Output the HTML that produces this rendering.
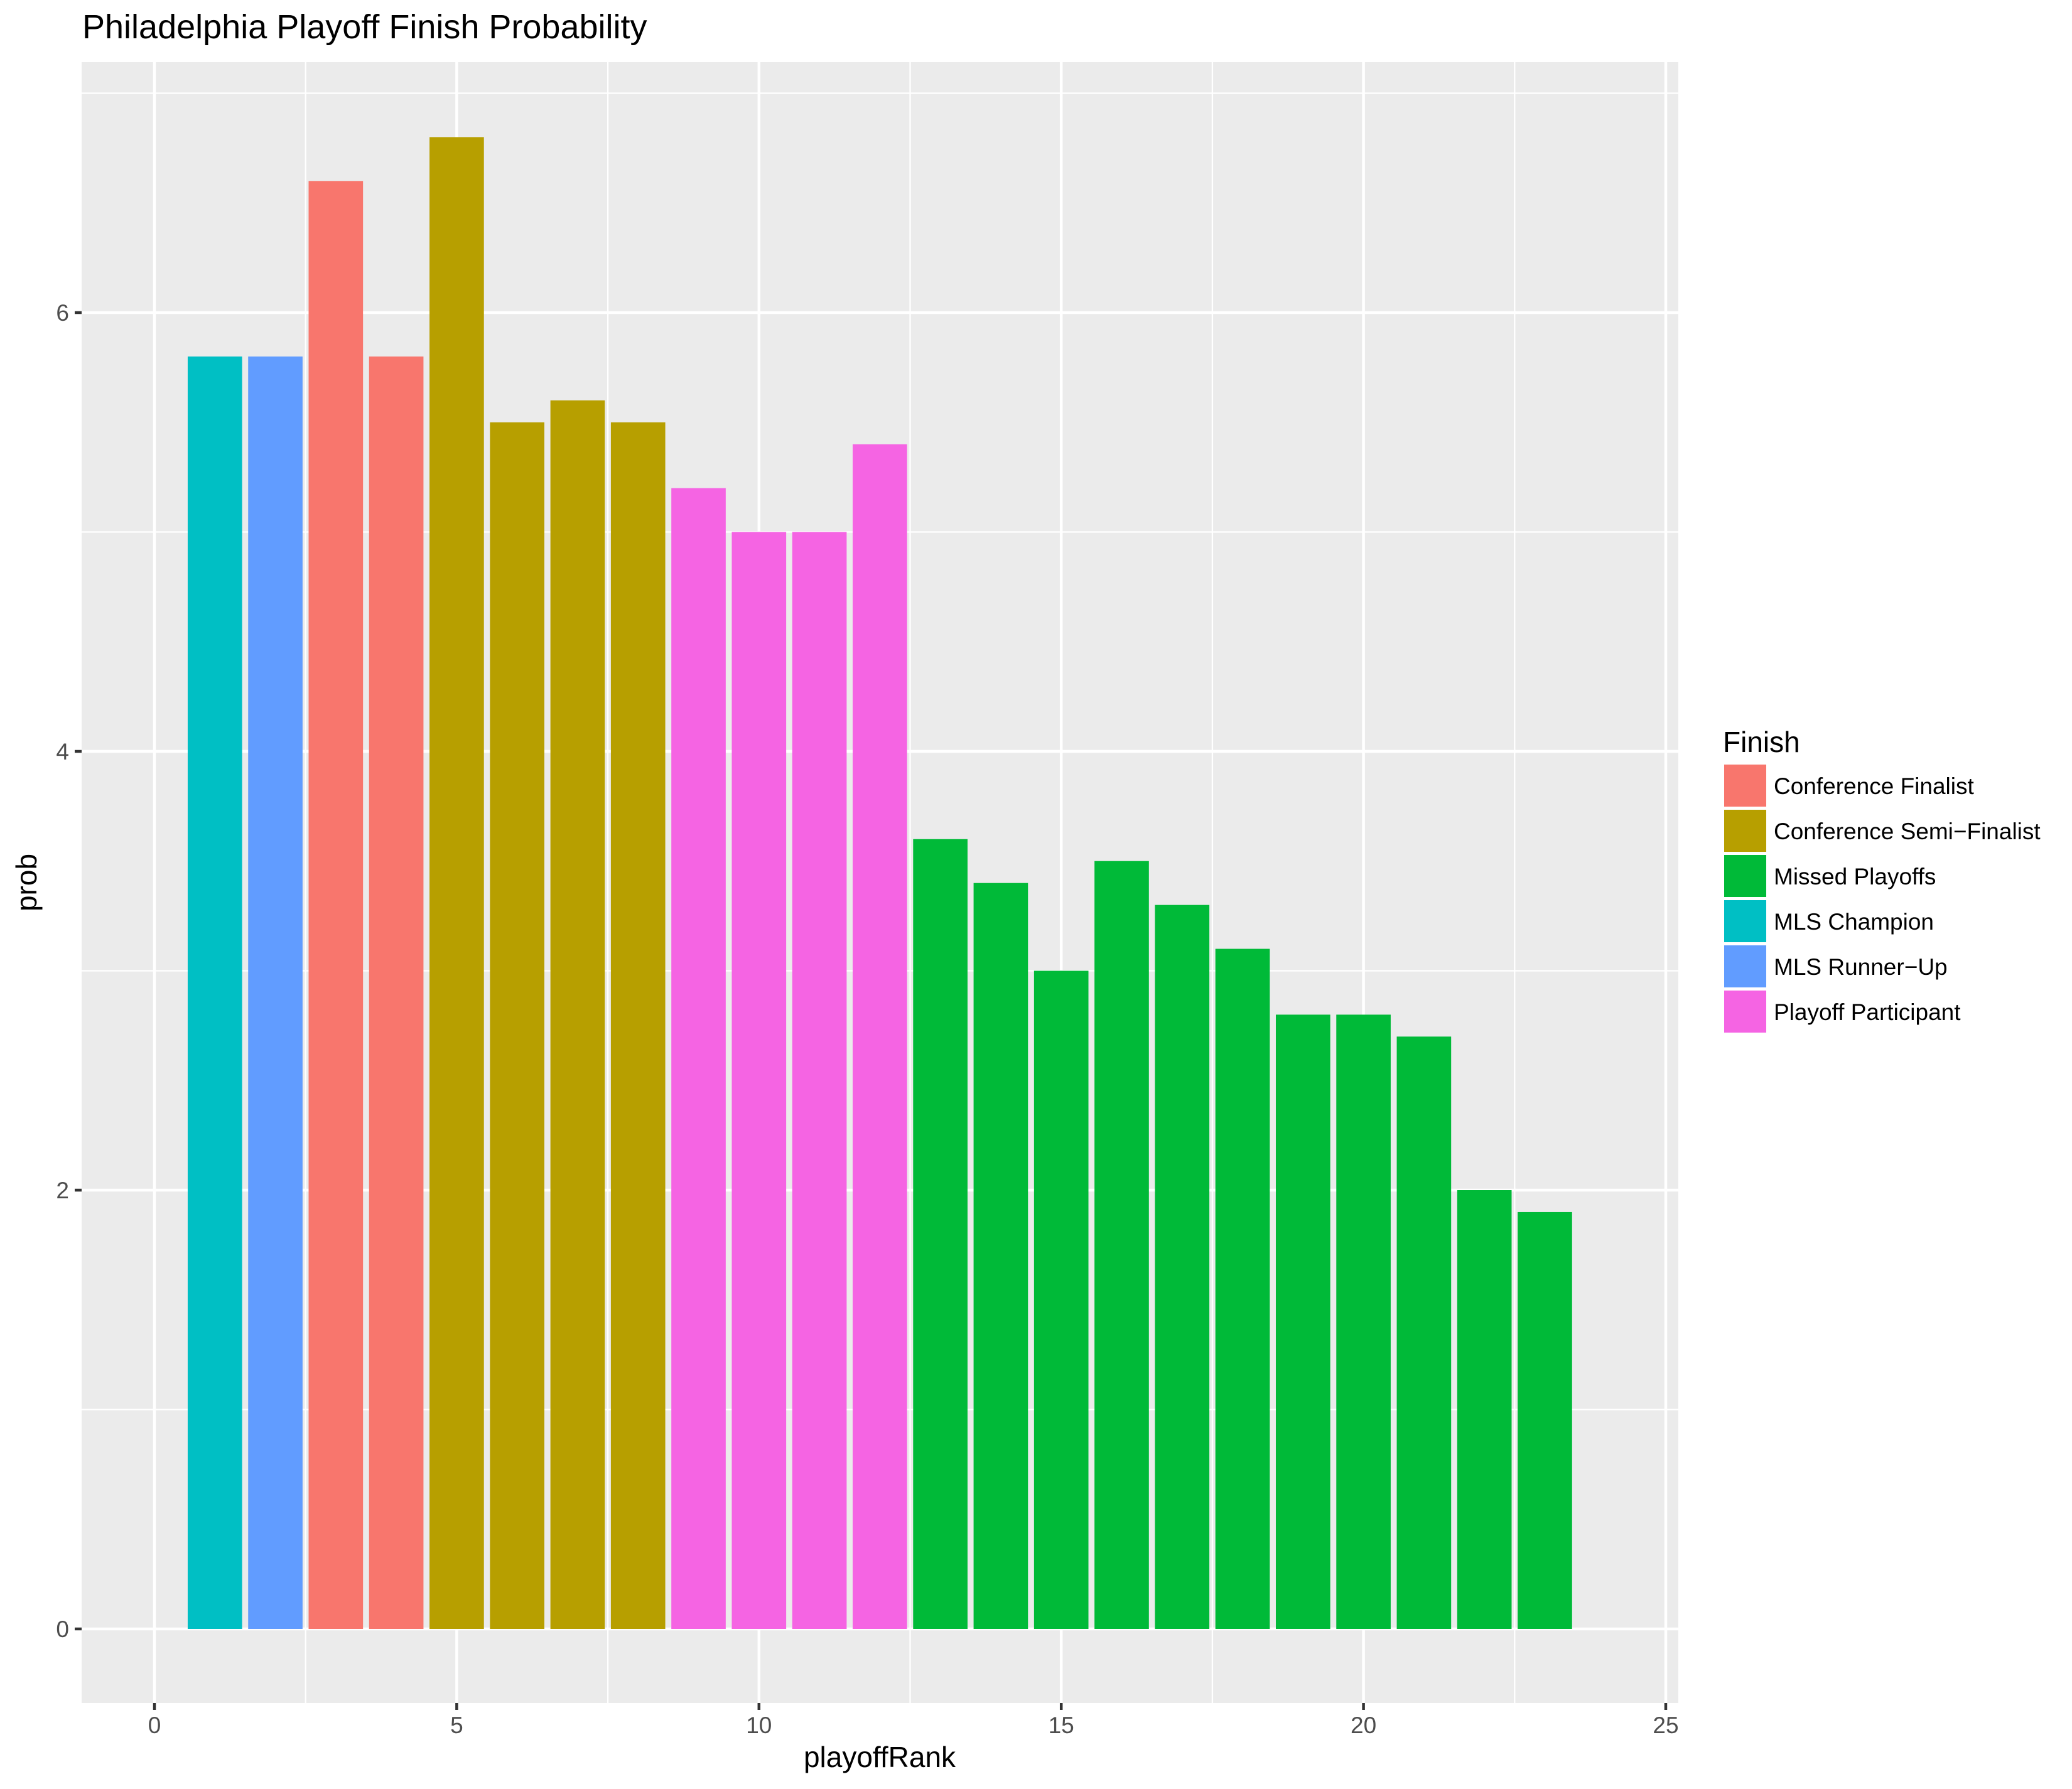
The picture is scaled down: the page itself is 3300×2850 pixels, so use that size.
<!DOCTYPE html>
<html><head><meta charset="utf-8"><style>html,body{margin:0;padding:0;background:#fff}svg{display:block}</style></head>
<body>
<svg width="3300" height="2850" viewBox="0 0 3300 2850" xmlns="http://www.w3.org/2000/svg" font-family="Liberation Sans, Arial, sans-serif">
<rect width="3300" height="2850" fill="#fff"/>
<text x="131" y="61" font-size="54" fill="#000">Philadelphia Playoff Finish Probability</text>
<rect x="130" y="99" width="2543" height="2614" fill="#ebebeb"/>
<g stroke="#fff" stroke-width="2.3">
<line x1="130" x2="2673" y1="2245.5" y2="2245.5"/>
<line x1="130" x2="2673" y1="1546.5" y2="1546.5"/>
<line x1="130" x2="2673" y1="847.5" y2="847.5"/>
<line x1="130" x2="2673" y1="148.5" y2="148.5"/>
<line y1="99" y2="2713" x1="486.7" x2="486.7"/>
<line y1="99" y2="2713" x1="968.1" x2="968.1"/>
<line y1="99" y2="2713" x1="1449.5" x2="1449.5"/>
<line y1="99" y2="2713" x1="1930.9" x2="1930.9"/>
<line y1="99" y2="2713" x1="2412.3" x2="2412.3"/>
</g>
<g stroke="#fff" stroke-width="4.5">
<line x1="130" x2="2673" y1="2595" y2="2595"/>
<line x1="130" x2="2673" y1="1896" y2="1896"/>
<line x1="130" x2="2673" y1="1197" y2="1197"/>
<line x1="130" x2="2673" y1="498" y2="498"/>
<line y1="99" y2="2713" x1="246" x2="246"/>
<line y1="99" y2="2713" x1="727.4" x2="727.4"/>
<line y1="99" y2="2713" x1="1208.8" x2="1208.8"/>
<line y1="99" y2="2713" x1="1690.2" x2="1690.2"/>
<line y1="99" y2="2713" x1="2171.6" x2="2171.6"/>
<line y1="99" y2="2713" x1="2653" x2="2653"/>
</g>
<g>
<rect x="298.95" y="567.9" width="86.65" height="2027.1" fill="#00BFC4"/>
<rect x="395.23" y="567.9" width="86.65" height="2027.1" fill="#619CFF"/>
<rect x="491.51" y="288.3" width="86.65" height="2306.7" fill="#F8766D"/>
<rect x="587.79" y="567.9" width="86.65" height="2027.1" fill="#F8766D"/>
<rect x="684.07" y="218.4" width="86.65" height="2376.6" fill="#B79F00"/>
<rect x="780.35" y="672.75" width="86.65" height="1922.25" fill="#B79F00"/>
<rect x="876.63" y="637.8" width="86.65" height="1957.2" fill="#B79F00"/>
<rect x="972.91" y="672.75" width="86.65" height="1922.25" fill="#B79F00"/>
<rect x="1069.19" y="777.6" width="86.65" height="1817.4" fill="#F564E3"/>
<rect x="1165.47" y="847.5" width="86.65" height="1747.5" fill="#F564E3"/>
<rect x="1261.75" y="847.5" width="86.65" height="1747.5" fill="#F564E3"/>
<rect x="1358.03" y="707.7" width="86.65" height="1887.3" fill="#F564E3"/>
<rect x="1454.31" y="1336.8" width="86.65" height="1258.2" fill="#00BA38"/>
<rect x="1550.59" y="1406.7" width="86.65" height="1188.3" fill="#00BA38"/>
<rect x="1646.87" y="1546.5" width="86.65" height="1048.5" fill="#00BA38"/>
<rect x="1743.15" y="1371.75" width="86.65" height="1223.25" fill="#00BA38"/>
<rect x="1839.43" y="1441.65" width="86.65" height="1153.35" fill="#00BA38"/>
<rect x="1935.71" y="1511.55" width="86.65" height="1083.45" fill="#00BA38"/>
<rect x="2031.99" y="1616.4" width="86.65" height="978.6" fill="#00BA38"/>
<rect x="2128.27" y="1616.4" width="86.65" height="978.6" fill="#00BA38"/>
<rect x="2224.55" y="1651.35" width="86.65" height="943.65" fill="#00BA38"/>
<rect x="2320.83" y="1896" width="86.65" height="699" fill="#00BA38"/>
<rect x="2417.11" y="1930.95" width="86.65" height="664.05" fill="#00BA38"/>
</g>
<g stroke="#333" stroke-width="4.5">
<line x1="119" x2="130" y1="2595" y2="2595"/><line x1="119" x2="130" y1="1896" y2="1896"/>
<line x1="119" x2="130" y1="1197" y2="1197"/><line x1="119" x2="130" y1="498" y2="498"/>
<line y1="2713" y2="2724" x1="246" x2="246"/><line y1="2713" y2="2724" x1="727.4" x2="727.4"/>
<line y1="2713" y2="2724" x1="1208.8" x2="1208.8"/><line y1="2713" y2="2724" x1="1690.2" x2="1690.2"/>
<line y1="2713" y2="2724" x1="2171.6" x2="2171.6"/><line y1="2713" y2="2724" x1="2653" x2="2653"/>
</g>
<g font-size="37" fill="#4d4d4d" text-anchor="end">
<text x="110" y="2608">0</text><text x="110" y="1909">2</text><text x="110" y="1210">4</text><text x="110" y="511">6</text>
</g>
<g font-size="37" fill="#4d4d4d" text-anchor="middle">
<text x="246" y="2761">0</text><text x="727.4" y="2761">5</text><text x="1208.8" y="2761">10</text>
<text x="1690.2" y="2761">15</text><text x="2171.6" y="2761">20</text><text x="2653" y="2761">25</text>
</g>
<text x="1401" y="2815" font-size="46" text-anchor="middle" fill="#000">playoffRank</text>
<text transform="translate(58,1406) rotate(-90)" font-size="46" text-anchor="middle" fill="#000">prob</text>
<text x="2744" y="1198" font-size="46" fill="#000">Finish</text>
<g>
<rect x="2746" y="1218" width="67" height="67" fill="#F8766D"/>
<rect x="2746" y="1290" width="67" height="67" fill="#B79F00"/>
<rect x="2746" y="1362" width="67" height="67" fill="#00BA38"/>
<rect x="2746" y="1434" width="67" height="67" fill="#00BFC4"/>
<rect x="2746" y="1506" width="67" height="67" fill="#619CFF"/>
<rect x="2746" y="1578" width="67" height="67" fill="#F564E3"/>
</g>
<g font-size="37" fill="#000">
<text x="2825" y="1265">Conference Finalist</text>
<text x="2825" y="1337">Conference Semi−Finalist</text>
<text x="2825" y="1409">Missed Playoffs</text>
<text x="2825" y="1481">MLS Champion</text>
<text x="2825" y="1553">MLS Runner−Up</text>
<text x="2825" y="1625">Playoff Participant</text>
</g>
</svg>
</body></html>
